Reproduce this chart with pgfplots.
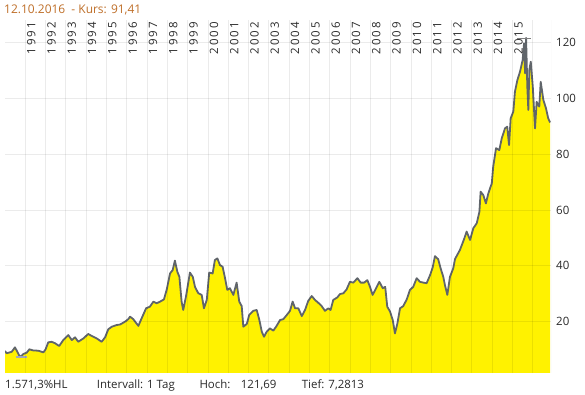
\documentclass[border=0pt]{standalone}
\usepackage{pgfplots}
\pgfplotsset{compat=1.18}
\usepackage{pgfplotstable}
\usepackage{fontspec}
\setmainfont{Open Sans}
\definecolor{fillyel}{RGB}{255,242,0}
\definecolor{linegrey}{RGB}{96,101,106}
\definecolor{titleor}{RGB}{190,110,40}
\definecolor{txt}{RGB}{40,40,40}
\definecolor{lowmark}{RGB}{160,168,190}
\pgfplotstableread{
x y
1990.00 9.5
1990.08 8.7
1990.33 9.2
1990.49 10.8
1990.58 9.6
1990.74 7.28
1990.90 8.4
1991.07 8.9
1991.20 10.1
1991.39 9.7
1991.64 9.6
1991.89 9.0
1992.00 10.1
1992.13 12.6
1992.30 12.8
1992.46 12.3
1992.67 11.3
1992.87 13.4
1993.12 15.2
1993.29 13.4
1993.45 14.4
1993.61 12.8
1993.86 14.0
1994.10 15.6
1994.27 14.9
1994.52 14.0
1994.76 12.8
1994.93 14.4
1995.09 17.3
1995.26 18.2
1995.50 18.8
1995.67 19.0
1995.91 20.0
1996.07 20.9
1996.16 21.8
1996.32 20.9
1996.57 18.5
1996.73 21.2
1996.95 24.8
1997.14 25.4
1997.31 27.2
1997.47 26.6
1997.64 27.2
1997.83 28.0
1997.97 31.6
1998.13 37.3
1998.26 38.5
1998.37 41.9
1998.49 37.9
1998.59 36.1
1998.70 27.2
1998.78 24.2
1998.92 29.2
1999.11 37.6
1999.25 36.1
1999.36 32.5
1999.52 30.2
1999.69 29.6
1999.80 24.8
1999.94 27.8
2000.06 37.6
2000.23 37.3
2000.34 42.1
2000.46 42.7
2000.59 40.3
2000.72 39.7
2000.84 35.6
2000.95 31.4
2001.08 32.0
2001.25 29.6
2001.41 34.0
2001.54 27.2
2001.66 25.6
2001.74 18.2
2001.91 19.2
2002.03 22.4
2002.23 23.9
2002.40 24.2
2002.53 20.6
2002.65 16.4
2002.76 14.6
2002.89 16.4
2003.05 17.6
2003.22 16.8
2003.38 18.5
2003.55 20.6
2003.71 20.9
2003.88 22.4
2004.04 23.9
2004.17 27.2
2004.29 24.8
2004.45 24.8
2004.62 22.0
2004.78 24.2
2004.94 27.5
2005.11 29.2
2005.27 27.8
2005.43 26.8
2005.60 25.6
2005.76 23.9
2005.93 24.8
2006.04 24.2
2006.17 27.8
2006.37 28.7
2006.50 29.9
2006.67 30.2
2006.83 31.6
2006.99 34.3
2007.16 34.0
2007.36 35.6
2007.52 34.0
2007.69 34.0
2007.85 34.9
2007.98 32.5
2008.11 29.6
2008.28 32.0
2008.44 34.3
2008.61 32.0
2008.73 32.5
2008.83 25.4
2008.97 23.6
2009.10 20.6
2009.21 15.8
2009.33 19.4
2009.46 24.8
2009.62 25.6
2009.79 28.0
2009.95 31.4
2010.11 32.5
2010.28 35.6
2010.44 34.3
2010.61 34.0
2010.77 33.8
2010.94 36.7
2011.07 39.5
2011.18 43.5
2011.34 42.4
2011.46 39.1
2011.59 36.1
2011.67 33.2
2011.79 29.6
2011.92 36.1
2012.08 39.1
2012.17 42.5
2012.41 45.7
2012.61 49.5
2012.74 52.3
2012.91 49.3
2013.07 53.5
2013.24 55.3
2013.37 59.4
2013.43 66.6
2013.56 65.4
2013.69 62.4
2013.81 66.0
2013.98 69.6
2014.05 75.6
2014.19 82.2
2014.35 81.5
2014.47 85.7
2014.63 89.3
2014.74 89.9
2014.83 83.3
2014.91 92.9
2015.04 95.3
2015.12 102.4
2015.24 106.6
2015.37 109.6
2015.50 113.8
2015.57 119.8
2015.62 109.0
2015.67 121.69
2015.73 104.2
2015.78 95.9
2015.83 110.2
2015.90 113.2
2016.00 104.2
2016.11 89.3
2016.19 98.8
2016.32 97.1
2016.39 106.0
2016.52 99.5
2016.65 96.5
2016.76 92.9
2016.85 91.41
}\kurs
\begin{document}
\begin{tikzpicture}
\useasboundingbox (-5bp,-22bp) rectangle (580bp,373bp);
\begin{axis}[
  at={(0,0)}, anchor=south west,
  scale only axis, width=546bp, height=353bp,
  xmin=1990, xmax=2016.897, ymin=1.61, ymax=128.14,
  axis line style={draw=none},
  major tick length=0pt,
  axis on top,
  grid=major,
  major grid style={draw=black, opacity=0.08, line width=0.9bp},
  xtick={1991,1992,1993,1994,1995,1996,1997,1998,1999,2000,2001,2002,2003,2004,2005,2006,2007,2008,2009,2010,2011,2012,2013,2014,2015,2016},
  xticklabels={1991,1992,1993,1994,1995,1996,1997,1998,1999,2000,2001,2002,2003,2004,2005,2006,2007,2008,2009,2010,2011,2012,2013,2014,2015,{}},
  xticklabel pos=upper,
  xticklabel style={xshift=1.5bp, yshift=-1.5bp, rotate=90, anchor=north east, inner sep=0pt, font=\fontsize{11.5}{13}\selectfont\addfontfeature{LetterSpace=20}, text=txt},
  ytick={20,40,60,80,100,120},
  yticklabel pos=right,
  yticklabel style={anchor=west, inner sep=0pt, xshift=5bp, font=\fontsize{11.5}{13}\selectfont, text=txt},
  /pgf/number format/assume math mode=true,
  clip=true,
]
\addplot[draw=none, fill=fillyel] table {\kurs} \closedcycle;
\addplot[linegrey, line width=1.8bp, line join=round] table {\kurs};
\addplot[gray, line width=0.8bp] coordinates {(2015.21,121.69) (2015.91,121.69)};
\addplot[lowmark, line width=1.4bp] coordinates {(1990.54,7.28) (1991.07,7.28)};
\draw[black!8, line width=0.9bp] (rel axis cs:1,0) -- (rel axis cs:1,1);
\end{axis}
\node[anchor=base west, inner sep=0pt, font=\fontsize{12}{14}\selectfont, text=titleor] at (-1bp,359.5bp) {12.10.2016\ \ - Kurs: 91,41};
\begin{scope}[every node/.style={anchor=base west, inner sep=0pt, font=\fontsize{11.5}{13}\selectfont, text=txt}]
\node at (0bp,-15bp) {1.571,3\%HL};
\node at (91.7bp,-15bp) {Intervall: 1 Tag};
\node at (194.3bp,-15bp) {Hoch:};
\node at (235.7bp,-15bp) {121,69};
\node at (296.7bp,-15bp) {Tief: 7,2813};
\end{scope}
\end{tikzpicture}
\end{document}
